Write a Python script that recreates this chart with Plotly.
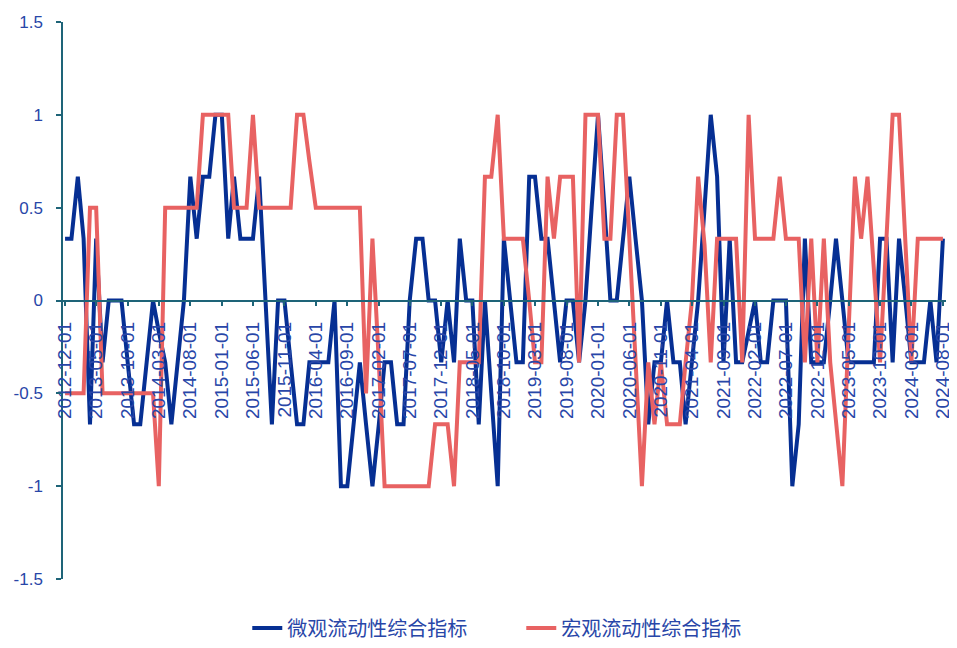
import plotly.graph_objects as go
import pandas as pd

# ---- data (monthly, 2012-12 .. 2024-08) ----
start_month = "2012-12-01"
end_month = "2024-08-01"

micro_index = [
    0.333, 0.333, 0.667, 0.333, -0.667, 0.333, -0.333, 0, 0, 0,          # 0-9
    -0.333, -0.667, -0.667, -0.333, 0, -0.167, -0.333, -0.667, -0.333, 0,  # 10-19
    0.667, 0.333, 0.667, 0.667, 1, 1, 0.333, 0.667, 0.333, 0.333,          # 20-29
    0.333, 0.667, 0, -0.667, 0, 0, -0.333, -0.667, -0.667, -0.333,         # 30-39
    -0.333, -0.333, -0.333, 0, -1, -1, -0.667, -0.333, -0.667, -1,         # 40-49
    -0.667, -0.333, -0.333, -0.667, -0.667, 0, 0.333, 0.333, 0, 0,         # 50-59
    -0.333, 0, -0.333, 0.333, 0, 0, -0.667, 0, -0.5, -1,                   # 60-69
    0.333, 0, -0.333, -0.333, 0.667, 0.667, 0.333, 0.333, 0, -0.333,       # 70-79
    0, 0, -0.333, 0, 0.5, 1, 0.5, 0, 0, 0.333,                             # 80-89
    0.667, 0.333, 0, -0.667, -0.333, -0.333, 0, -0.333, -0.333, -0.667,    # 90-99
    -0.333, 0, 0.5, 1, 0.667, -0.333, 0.333, -0.333, -0.333, -0.167,       # 100-109
    0, -0.333, -0.333, 0, 0, 0, -1, -0.667, 0.333, -0.333,                 # 110-119
    -0.333, -0.333, 0, 0.333, 0, -0.333, -0.333, -0.333, -0.333, -0.333,   # 120-129
    0.333, 0.333, -0.333, 0.333, 0, -0.333, -0.333, -0.333, 0, -0.333,     # 130-139
    0.333,                                                                 # 140
]

macro_index = [
    -0.5, -0.5, -0.5, -0.5, 0.5, 0.5, -0.5, -0.5, -0.5, -0.5,              # 0-9
    -0.5, -0.5, -0.5, -0.5, -0.5, -1, 0.5, 0.5, 0.5, 0.5,                  # 10-19
    0.5, 0.5, 1, 1, 1, 1, 1, 0.5, 0.5, 0.5,                                # 20-29
    1, 0.5, 0.5, 0.5, 0.5, 0.5, 0.5, 1, 1, 0.75,                           # 30-39
    0.5, 0.5, 0.5, 0.5, 0.5, 0.5, 0.5, 0.5, -0.5, 0.333,                   # 40-49
    -0.333, -1, -1, -1, -1, -1, -1, -1, -1, -0.667,                        # 50-59
    -0.667, -0.667, -1, -0.333, -0.333, -0.333, -0.333, 0.667, 0.667, 1,   # 60-69
    0.333, 0.333, 0.333, 0.333, 0, -0.333, -0.333, 0.667, 0.333, 0.667,    # 70-79
    0.667, 0.667, -0.333, 1, 1, 1, 0.333, 0.333, 1, 1,                     # 80-89
    0.333, -0.333, -1, -0.333, -0.667, -0.333, -0.667, -0.667, -0.667, -0.333,  # 90-99
    0, 0.667, 0.3, -0.333, 0.333, 0.333, 0.333, 0.333, -0.333, 1,          # 100-109
    0.333, 0.333, 0.333, 0.333, 0.667, 0.333, 0.333, 0.333, -0.333, 0.333, # 110-119
    -0.333, 0.333, -0.333, -0.667, -1, -0.167, 0.667, 0.333, 0.667, 0.167, # 120-129
    -0.333, 0.333, 1, 1, 0.333, -0.333, 0.333, 0.333, 0.333, 0.333,        # 130-139
    0.333,                                                                 # 140
]

series_names = ["微观流动性综合指标", "宏观流动性综合指标"]

y_tick_values = [-1.5, -1, -0.5, 0, 0.5, 1, 1.5]
y_tick_labels = ["-1.5", "-1", "-0.5", "0", "0.5", "1", "1.5"]

dates = pd.date_range(start_month, end_month, freq="MS")
x_tick_dates = pd.date_range(start_month, end_month, freq="5MS")
x_tick_labels = [d.strftime("%Y-%m-%d") for d in x_tick_dates]

# ---- styles ----
BLUE = "#062f93"
RED = "#e86262"
AXIS = "#1e6478"
TEXT = "#2846a8"

fig = go.Figure()
fig.add_trace(go.Scatter(x=dates, y=micro_index, mode="lines", name=series_names[0],
                         line=dict(color=BLUE, width=4)))
fig.add_trace(go.Scatter(x=dates, y=macro_index, mode="lines", name=series_names[1],
                         line=dict(color=RED, width=4)))

# the page body adds an 8px offset, so the figure is 8px smaller on each side
fig.update_layout(
    width=949, height=640,
    margin=dict(l=55, r=11, t=14, b=69, autoexpand=False),
    paper_bgcolor="white", plot_bgcolor="white",
    font=dict(family="Liberation Sans, Arial, Noto Sans CJK SC", color=TEXT),
    showlegend=True,
    legend=dict(orientation="h", x=0.519, xanchor="center", y=-0.088, yanchor="middle",
                font=dict(family="Noto Sans CJK SC", size=20, color=TEXT),
                entrywidth=229, entrywidthmode="pixels",
                bgcolor="rgba(0,0,0,0)"),
    xaxis=dict(
        type="date",
        range=["2012-11-21", "2024-08-16"],
        anchor="free", position=0.5,
        automargin=False,
        showline=True, linecolor=AXIS, linewidth=1.5,
        ticks="outside", ticklen=5, tickcolor=AXIS, tickwidth=1.5,
        tickvals=list(x_tick_dates), ticktext=x_tick_labels,
        tickangle=-90,
        tickfont=dict(size=19, color=TEXT, family="Liberation Sans, Arial"),
        ticklabelstandoff=8,
        showgrid=False, zeroline=False,
    ),
    yaxis=dict(
        range=[-1.5, 1.5],
        automargin=False,
        showline=True, linecolor=AXIS, linewidth=1.5,
        ticks="outside", ticklen=5, tickcolor=AXIS, tickwidth=1.5,
        tickvals=y_tick_values, ticktext=y_tick_labels,
        tickfont=dict(size=17, color=TEXT, family="Liberation Sans, Arial"),
        ticklabelstandoff=10,
        showgrid=False, zeroline=False,
    ),
)

fig.write_html("out.html")
